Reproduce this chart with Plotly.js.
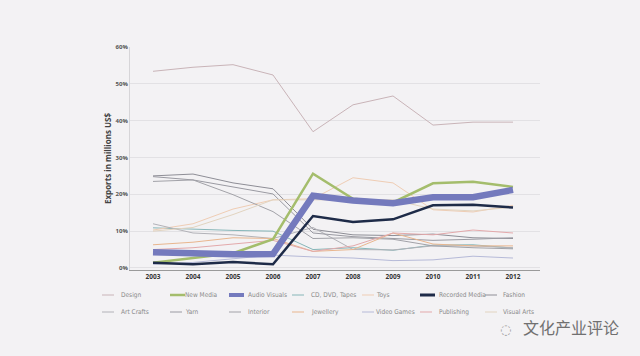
<!DOCTYPE html>
<html><head><meta charset="utf-8">
<script src="https://cdn.plot.ly/plotly-3.0.1.min.js"></script>
<style>html,body{margin:0;padding:0;background:#f3f2f4;}#chart{width:640px;height:356px;}</style>
</head><body><div id="chart"></div>
<script>
const years = [2003,2004,2005,2006,2007,2008,2009,2010,2011,2012];
const design        = [53.4,54.5,55.2,52.4,37.0,44.3,46.7,38.8,39.6,39.6];
const newMedia      = [1.4,2.6,4.0,7.8,25.6,18.8,17.8,23.0,23.4,22.0];
const audioVisuals  = [4.3,3.8,3.7,3.8,19.6,18.3,17.6,19.2,19.2,21.2];
const cdDvdTapes    = [10.9,10.5,10.2,10.0,5.0,5.5,4.8,6.2,6.3,5.4];
const toys          = [10.3,12.0,16.0,18.5,18.8,24.5,23.1,15.8,15.2,17.0];
const recordedMedia = [1.4,1.0,1.6,1.0,14.1,12.5,13.2,17.0,17.2,16.4];
const fashion       = [25.0,25.5,23.1,21.5,10.5,9.0,8.8,9.2,8.2,8.0];
const artCrafts     = [12.0,9.5,9.0,8.0,11.0,5.0,4.9,6.0,6.0,5.5];
const yarn          = [24.8,23.9,22.0,20.1,9.5,8.5,8.0,7.5,7.8,8.2];
const interior      = [23.5,23.9,19.9,15.3,8.0,8.2,7.8,6.0,5.5,5.2];
const jewellery     = [6.3,7.0,8.2,8.0,4.5,5.0,9.5,6.5,6.0,6.0];
const videoGames    = [1.0,1.5,2.5,3.5,3.0,2.7,2.0,2.2,3.2,2.7];
const publishing    = [5.0,5.5,6.5,7.5,4.5,6.0,9.5,9.0,10.3,9.5];
const visualArts    = [10.0,11.0,14.5,18.5,18.5,18.5,18.5,16.0,15.5,16.5];
const seriesNames = ['Design','New Media','Audio Visuals','CD, DVD, Tapes','Toys','Recorded Media','Fashion',
                     'Art Crafts','Yarn','Interior','Jewellery','Video Games','Publishing','Visual Arts'];
const yTickVals = [0,10,20,30,40,50,60];
const yTickText = ['0%','10%','20%','30%','40%','50%','60%'];

const seriesValues = [design,newMedia,audioVisuals,cdDvdTapes,toys,recordedMedia,fashion,
                      artCrafts,yarn,interior,jewellery,videoGames,publishing,visualArts];
const colors = ['#c9b4b8','#a4bd6c','#747abd','#86b6b8','#efcdb4','#1e2b48','#8e8e96',
                '#b2b2b8','#9a9aa2','#a2a2a8','#e9b68e','#b6bad8','#e3a9ab','#e2d4c0'];
const widths = [1,2.5,6.5,1,1,2.5,1, 1,1,1,1,1,1,1];
const swatchWidths = [1,2.5,4,1,1,3,1, 1,1,1,1,1,1,1];

const drawOrder = [0,3,4,6,7,8,9,10,11,12,13,1,5,2];
const data = drawOrder.map(i => ({
  x: years, y: seriesValues[i], name: seriesNames[i], type: 'scatter', mode: 'lines',
  line: {color: colors[i], width: widths[i]}, showlegend: false
}));

// custom legend (7 columns x 2 rows) in paper coords
const L = 130, W = 410, B = 270, H = 223;
const px2x = p => (p - L) / W;
const py2y = p => (B - p) / H;
const swatchX0 = [102,170,229,292,362,420,485];
const textX    = [120,184,247,310,375,438,502];
const rowY     = [295,312];
const shapes = [], annotations = [];
seriesNames.forEach((n, i) => {
  const col = i % 7, row = Math.floor(i / 7);
  const yy = py2y(rowY[row]);
  shapes.push({type: 'line', xref: 'paper', yref: 'paper',
    x0: px2x(swatchX0[col]), x1: px2x(swatchX0[col] + (swatchWidths[i] > 2 ? 15 : 12)),
    y0: yy, y1: yy, line: {color: colors[i], width: swatchWidths[i]}});
  annotations.push({xref: 'paper', yref: 'paper', x: px2x(textX[col]), y: yy,
    xanchor: 'left', yanchor: 'middle', text: n, showarrow: false, borderpad: 0,
    font: {size: 6.5, color: '#8a8a8a', family: 'Liberation Sans Narrow, DejaVu Sans Condensed, sans-serif'}});
});
annotations.push({
  xref: 'paper', yref: 'paper', x: px2x(621), y: py2y(327), xanchor: 'right', yanchor: 'middle',
  text: '文化产业评论', showarrow: false,
  font: {size: 16, color: '#707070', family: 'Noto Sans CJK SC'}
});
annotations.push({
  xref: 'paper', yref: 'paper', x: px2x(505), y: py2y(329), xanchor: 'center', yanchor: 'middle',
  text: '◌', showarrow: false, borderpad: 0,
  font: {size: 13, color: '#9a9a9a', family: 'DejaVu Sans'}
});

const layout = {
  width: 640, height: 356,
  paper_bgcolor: '#f3f2f4', plot_bgcolor: '#f3f2f4',
  margin: {l: 130, r: 100, t: 47, b: 86},
  showlegend: false,
  font: {family: 'Open Sans, sans-serif', color: '#555'},
  xaxis: {
    range: [2002.425, 2012.675], tickvals: years, ticktext: years.map(String),
    showgrid: false, zeroline: false, showline: true, linecolor: '#9a9a9a', linewidth: 1,
    ticks: '', tickfont: {size: 6.5, color: '#333', family: 'Open Sans, sans-serif', weight: 'bold'}
  },
  yaxis: {
    range: [-0.55, 60], tickvals: yTickVals, ticktext: yTickText,
    showgrid: true, gridcolor: '#e2e1e4', gridwidth: 1, zeroline: false,
    showline: true, linecolor: '#d6d5d8', linewidth: 1, ticks: '',
    tickfont: {size: 6, color: '#555', family: 'Open Sans, sans-serif', weight: 'bold'},
    title: {text: 'Exports in millions US$', standoff: 2,
            font: {size: 8, color: '#444', family: 'Open Sans, sans-serif', weight: 'bold'}}
  },
  shapes: shapes,
  annotations: annotations
};
Plotly.newPlot('chart', data, layout, {displayModeBar: false, staticPlot: true});
</script></body></html>
